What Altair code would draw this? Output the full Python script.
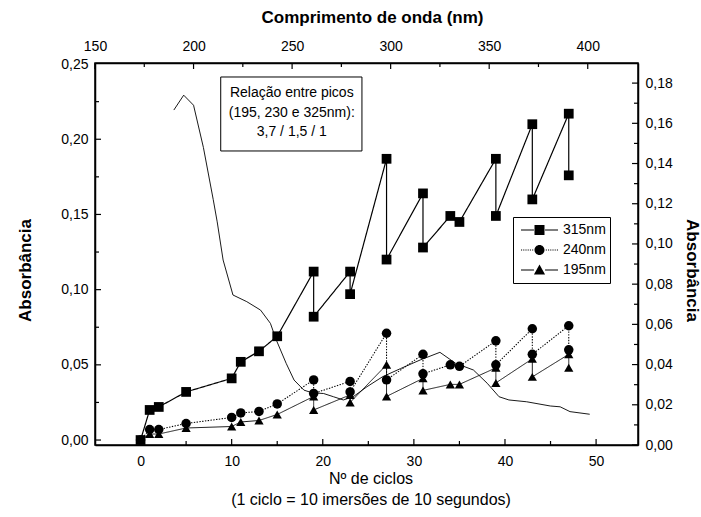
import altair as alt
import pandas as pd

# ---- deposition series: absorbance vs. number of cycles ----
ciclos = [0, 1, 2, 5, 10, 11, 13, 15, 19, 19, 23, 23, 27, 27, 31, 31, 34, 35, 39, 39, 43, 43, 47, 47]
abs_315 = [0.000, 0.020, 0.022, 0.032, 0.041, 0.052, 0.059, 0.069, 0.112, 0.082, 0.112, 0.097,
           0.187, 0.120, 0.164, 0.128, 0.149, 0.145, 0.187, 0.149, 0.210, 0.160, 0.217, 0.176]
abs_240 = [0.000, 0.007, 0.007, 0.011, 0.015, 0.018, 0.019, 0.024, 0.040, 0.031, 0.039, 0.032,
           0.071, 0.040, 0.057, 0.044, 0.050, 0.049, 0.066, 0.050, 0.074, 0.057, 0.076, 0.060]
abs_195 = [0.000, 0.004, 0.004, 0.008, 0.009, 0.012, 0.013, 0.017, 0.029, 0.020, 0.030, 0.025,
           0.050, 0.029, 0.041, 0.033, 0.037, 0.037, 0.048, 0.038, 0.054, 0.042, 0.057, 0.048]
series = ["315nm", "240nm", "195nm"]

# ---- UV-Vis spectrum: absorbance vs. wavelength ----
comprimento_onda = [190, 195, 200, 205, 210, 212, 215, 220, 227, 234, 239, 242, 247, 251, 256, 260,
                    266, 271, 276, 281, 288, 296, 305, 315, 325, 333, 342, 349, 355, 360, 369, 381,
                    386, 391, 401]
abs_espectro = [0.1666, 0.174, 0.169, 0.148, 0.122, 0.111, 0.092, 0.0746, 0.0713, 0.0671, 0.0605,
                0.0522, 0.0406, 0.0323, 0.0273, 0.026, 0.0256, 0.024, 0.0224, 0.024, 0.029, 0.034,
                0.038, 0.0423, 0.0461, 0.0406, 0.0373, 0.0307, 0.024, 0.0224, 0.0215, 0.0194,
                0.019, 0.0166, 0.0153]

# ---- axis tick values ----
x_major = [0, 10, 20, 30, 40, 50]
x_minor = [5, 15, 25, 35, 45]
yl_major = [0.0, 0.05, 0.10, 0.15, 0.20]
yl_minor = [0.025, 0.075, 0.125, 0.175, 0.225]
wl_major = [150, 200, 250, 300, 350, 400]
wl_minor = [175, 225, 275, 325, 375]
yr_major = [0.0, 0.02, 0.04, 0.06, 0.08, 0.10, 0.12, 0.14, 0.16, 0.18]
yr_minor = [0.01, 0.03, 0.05, 0.07, 0.09, 0.11, 0.13, 0.15, 0.17]

nota = ["Relação entre picos", "(195, 230 e 325nm):", "3,7 / 1,5 / 1"]

W, H = 543, 382
FONT = "Liberation Sans"
MAJ, MIN = 6, 4

rows = []
for nome, vals in zip(series, [abs_315, abs_240, abs_195]):
    for i, (c, a) in enumerate(zip(ciclos, vals)):
        rows.append({"serie": nome, "seq": i, "ciclo": c, "abs": a})
df = pd.DataFrame(rows)
df_esp = pd.DataFrame({"wl": comprimento_onda, "absr": abs_espectro})

comma2 = "replace(format(datum.value, '.2f'), '.', ',')"

xs = alt.Scale(domain=[-5, 54.6], nice=False, zero=False)
ys = alt.Scale(domain=[-0.0033, 0.2507], nice=False, zero=False)
ws = alt.Scale(domain=[150, 425.5], nice=False, zero=False)
rs = alt.Scale(domain=[0, 0.19], nice=False, zero=False)

ax_bottom = alt.Axis(orient="bottom", values=x_major, ticks=False, grid=False, labelPadding=9,
                     labelFontSize=14, labelFlush=False,
                     title=["Nº de ciclos", "(1 ciclo = 10 imersões de 10 segundos)"],
                     titleFontSize=16, titleFontWeight="normal", titleLineHeight=21,
                     titleBaseline="top", titleX=W / 2 + 4, titleY=25)
ax_left = alt.Axis(orient="left", values=yl_major + [0.25], ticks=False, grid=False, labelPadding=7,
                   labelFontSize=14, labelExpr=comma2, labelFlush=False,
                   title="Absorbância", titleFontSize=17, titleFontWeight="bold",
                   titleAngle=-90, titleBaseline="middle", titleAlign="center",
                   titleX=-70, titleY=207)
ax_top = alt.Axis(orient="top", values=wl_major, ticks=False, grid=False, labelPadding=10,
                  labelFontSize=14, labelFlush=False,
                  title="Comprimento de onda (nm)", titleFontSize=17, titleFontWeight="bold",
                  titleBaseline="middle", titleAlign="center", titleX=277, titleY=-46)
ax_right = alt.Axis(orient="right", values=yr_major, ticks=False, grid=False, labelPadding=7,
                    labelFontSize=14, labelExpr=comma2, labelFlush=False,
                    title="Absorbância", titleFontSize=17, titleFontWeight="bold",
                    titleAngle=90, titleBaseline="middle", titleAlign="center",
                    titleX=53, titleY=207)


def xtick_rules(vals, field, scale, axis, y0, y1):
    return alt.Chart(pd.DataFrame({field: vals})).mark_rule(color="black", strokeWidth=1.2).encode(
        x=alt.X(f"{field}:Q", scale=scale, axis=axis), y=alt.value(y0), y2=alt.value(y1))


def ytick_rules(vals, field, scale, axis, x0, x1):
    return alt.Chart(pd.DataFrame({field: vals})).mark_rule(color="black", strokeWidth=1.2).encode(
        y=alt.Y(f"{field}:Q", scale=scale, axis=axis), x=alt.value(x0), x2=alt.value(x1))


X = alt.X("ciclo:Q", scale=xs, axis=ax_bottom)
Y = alt.Y("abs:Q", scale=ys, axis=ax_left)

linhas = alt.Chart(df).mark_line(color="black").encode(
    x=X, y=Y, order="seq:Q",
    detail="serie:N",
    strokeDash=alt.StrokeDash("serie:N", scale=alt.Scale(domain=series, range=[[1, 0], [1.4, 1.4], [1, 0]]), legend=None),
    strokeWidth=alt.StrokeWidth("serie:N", scale=alt.Scale(domain=series, range=[1.2, 0.9, 0.8]), legend=None),
)

pontos = alt.Chart(df).mark_point(filled=True, color="black", opacity=1).encode(
    x=X, y=Y,
    shape=alt.Shape("serie:N", scale=alt.Scale(domain=series, range=["square", "circle", "triangle-up"]), legend=None),
    size=alt.Size("serie:N", scale=alt.Scale(domain=series, range=[95, 85, 95]), legend=None),
)


# legend symbols: a short line (thin filled bars) with the marker in the middle
def bar(x0, x1, t=0.028):
    return f"M{x0:.3f},{-t}H{x1:.3f}V{t}H{x0:.3f}Z"


solid = bar(-1, -0.3) + bar(0.3, 1)
dotted = "".join(bar(-1 + 0.12 * k, -1 + 0.12 * k + 0.06) for k in range(6)) + \
         "".join(bar(0.34 + 0.12 * k, 0.34 + 0.12 * k + 0.06) for k in range(6))
leg_paths = [
    solid + "M-0.27,-0.27H0.27V0.27H-0.27Z",
    dotted + "M-0.27,0A0.27,0.27 0 1,1 0.27,0A0.27,0.27 0 1,1 -0.27,0Z",
    solid + "M0,-0.3L0.3,0.24H-0.3Z",
]
legenda = alt.Chart(df).mark_point(filled=True, color="black", opacity=0, size=1369).encode(
    x=X, y=Y,
    shape=alt.Shape("serie:N", scale=alt.Scale(domain=series, range=leg_paths),
                    legend=alt.Legend(title=None, orient="none", legendX=418, legendY=154,
                                      padding=4, strokeColor="black", fillColor="white",
                                      symbolSize=1369, clipHeight=18, rowPadding=2,
                                      symbolOffset=4, symbolStrokeWidth=0,
                                      symbolFillColor="black", symbolStrokeColor="black",
                                      symbolOpacity=1, labelFontSize=14, labelFont=FONT,
                                      labelOffset=5, labelColor="black")),
)

caixa = alt.Chart().mark_rect(fill="white", stroke="black", strokeWidth=1).encode(
    x=alt.XDatum(8.8, type="quantitative", scale=xs, axis=ax_bottom),
    x2=alt.X2Datum(24.3),
    y=alt.YDatum(0.2414, type="quantitative", scale=ys, axis=ax_left),
    y2=alt.Y2Datum(0.1922),
)
texto = alt.Chart().mark_text(text=nota, fontSize=14, font=FONT, lineHeight=19.5,
                              align="center", baseline="middle", color="black").encode(
    x=alt.XDatum(16.6, type="quantitative", scale=xs, axis=ax_bottom),
    y=alt.YDatum(0.2307, type="quantitative", scale=ys, axis=ax_left),
)

principal = alt.layer(
    caixa, texto, linhas, pontos, legenda,
    xtick_rules(x_major, "ciclo", xs, ax_bottom, H, H - MAJ),
    xtick_rules(x_minor, "ciclo", xs, ax_bottom, H, H - MIN),
    ytick_rules(yl_major, "abs", ys, ax_left, 0, MAJ),
    ytick_rules(yl_minor, "abs", ys, ax_left, 0, MIN),
).resolve_scale(shape="independent")

espectro = alt.layer(
    alt.Chart(df_esp).mark_line(color="black", strokeWidth=0.9).encode(
        x=alt.X("wl:Q", scale=ws, axis=ax_top),
        y=alt.Y("absr:Q", scale=rs, axis=ax_right),
    ),
    xtick_rules(wl_major, "wl", ws, ax_top, 0, MAJ),
    xtick_rules(wl_minor, "wl", ws, ax_top, 0, MIN),
    ytick_rules(yr_major, "absr", rs, ax_right, W, W - MAJ),
    ytick_rules(yr_minor, "absr", rs, ax_right, W, W - MIN),
)

chart = alt.layer(espectro, principal).resolve_scale(
    x="independent", y="independent"
).properties(
    width=W, height=H,
    autosize=alt.AutoSizeParams(type="none"),
    padding={"left": 95, "top": 63, "right": 63, "bottom": 72},
).configure(font=FONT, background="white").configure_view(
    stroke="black", strokeWidth=1.5
).configure_axis(
    labelColor="black", titleColor="black", domainColor="black", domainWidth=1.5,
    labelFont=FONT, titleFont=FONT,
)

chart.save("out.html", embed_options={"renderer": "svg", "actions": False})
